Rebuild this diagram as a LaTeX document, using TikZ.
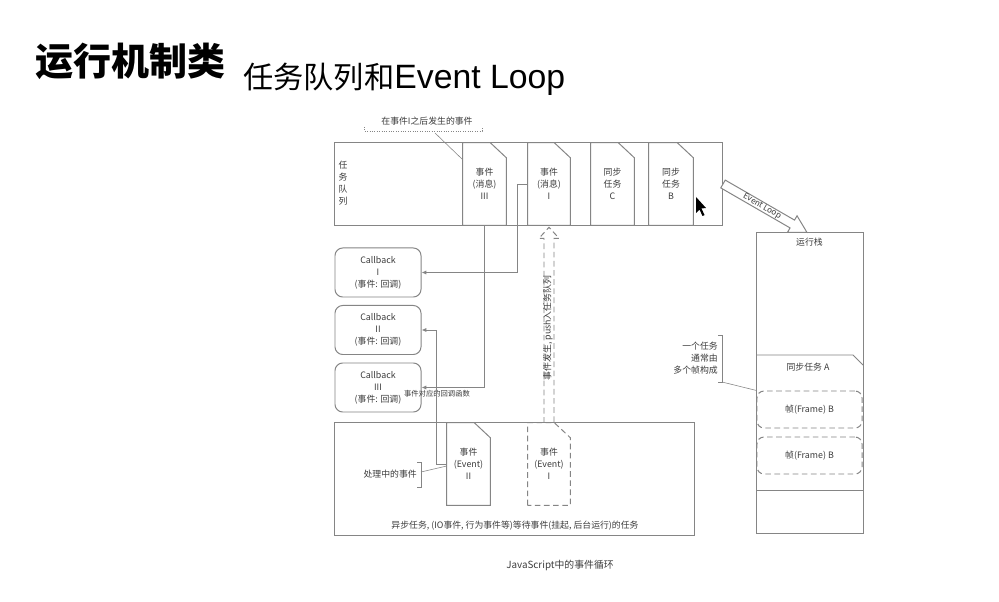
\documentclass[tikz,border=0pt]{standalone}
\usepackage{fontspec}
\setmainfont{Noto Sans CJK SC}
\newfontfamily\latinsans{Liberation Sans}
\usetikzlibrary{calc, arrows.meta}
\definecolor{linegray}{HTML}{858585}
\definecolor{textgray}{HTML}{3C3C3C}

% card with a folded top right corner, drawn on a node's anchors
\newcommand\foldcard[2][]{%
  \draw[gline,#1] (#2.south west) -- (#2.north west) -- ($(#2.north east)+(-16,0)$)
    -- ($(#2.north east)+(0,15)$) -- (#2.south east) -- cycle;}

\begin{document}
\begin{tikzpicture}[x=0.025cm, y=-0.025cm, >={Latex[length=3.5pt,width=3pt]},
  gline/.style={draw=linegray, line width=0.7pt},
  dashline/.style={gline, dash pattern=on 4pt off 2.5pt},
  smalltext/.style={font=\fontsize{6.3}{8.5}\selectfont, text=textgray, align=center, inner sep=0pt},
  card/.style={smalltext, minimum width=#1, minimum height=2.05cm},
  cbbox/.style={smalltext, gline, rounded corners=5.5pt, minimum width=2.15cm, minimum height=1.225cm},
  framebox/.style={smalltext, dashline, rounded corners=5pt, minimum width=2.625cm, minimum height=0.925cm}]
  \fill[white] (0,0) rectangle (999,602);
  \useasboundingbox (0,0) rectangle (999,602);

  % title
  \node[anchor=base west, inner sep=0pt, font=\fontsize{27}{30}\selectfont\bfseries] (title) at (35,76) {运行机制类};
  \node[anchor=base west, inner sep=0pt, font=\fontsize{21.5}{24}\selectfont] (subtitle) at (243,89) {任务队列和{\latinsans\fontsize{24}{26}\selectfont Event Loop}};

  % task queue
  \node[gline, minimum width=9.675cm, minimum height=2.05cm] (queue) at (528.5,184) {};
  \node[smalltext] (qlabel) at (343,183) {任\\务\\队\\列};
  \node[card=1.075cm] (m3) at (484.5,184) {事件\\(消息)\\III};
  \node[card=1.05cm] (m1) at (549,184) {事件\\(消息)\\I};
  \node[card=1.075cm] (sc) at (612.5,184) {同步\\任务\\C};
  \node[card=1.1cm] (sb) at (671,184) {同步\\任务\\B};
  \foreach \c in {m3,m1,sc,sb} {\foldcard{\c}}

  \node[smalltext] (later) at (427,121) {在事件I之后发生的事件};
  \draw[gline, densely dotted, thin] (364,127) -- (364,131) -- (482,131) -- (482,127);
  \draw[gline, thin] (435,133) -- ($(m3.north west)+(0,17)$);

  % mouse pointer
  \fill[black] (696,197) -- (696,213) -- (699.5,209.5) -- (702.5,216) -- (704.5,215) -- (701.5,208.5) -- (706,208) -- cycle;

  % event loop arrow
  \begin{scope}[shift={(723,184)}, rotate=-30]
    \draw[gline, fill=white] (0,-4.5) -- (80,-4.5) -- (80,-9.5) -- (97,0) -- (80,9.5) -- (80,4.5) -- (0,4.5) -- cycle;
    \node[smalltext, font=\fontsize{5.8}{7}\selectfont, rotate=-30] (evloop) at (45,0) {Event Loop};
  \end{scope}

  % call stack
  \node[gline, minimum width=2.675cm, minimum height=7.5cm] (stack) at (809.5,383) {};
  \node[smalltext, anchor=north] (stacktitle) at ($(stack.north)+(0,5)$) {运行栈};
  \draw[gline] (756,355) -- (853,355) -- (863,365);
  \node[smalltext] (syncA) at (808,367) {同步任务 A};
  \node[framebox] (f1) at (809.5,409.5) {帧(Frame) B};
  \node[framebox] (f2) at (809.5,455.5) {帧(Frame) B};
  \draw[gline] (756,490) -- (863,490);
  \node[smalltext, align=right, anchor=east] (tasknote) at (718,358) {一个任务\\通常由\\多个帧构成};
  \draw[gline, thin] (718,335) -- (722,335) -- (722,382) -- (718,382);
  \draw[gline, thin] (722,382) -- (f1.north west);

  % callbacks
  \node[cbbox] (cb1) at (378,272.5) {Callback\\I\\(事件: 回调)};
  \node[cbbox] (cb2) at (378,330) {Callback\\II\\(事件: 回调)};
  \node[cbbox] (cb3) at (378,387.5) {Callback\\III\\(事件: 回调)};
  \node[smalltext, font=\fontsize{5.2}{6}\selectfont] (cblabel) at (437,394) {事件对应的回调函数};

  % waiting async tasks
  \node[gline, minimum width=8.975cm, minimum height=2.8cm] (async) at (514.5,479) {};
  \node[card=1.075cm] (e2) at (468.5,464) {事件\\(Event)\\II};
  \node[card=1.05cm] (e1) at (549,464) {事件\\(Event)\\I};
  \foldcard{e2}
  \foldcard[dashline]{e1}
  \node[smalltext, anchor=east] (busy) at (417,474) {处理中的事件};
  \draw[gline, thin] (417,462) -- (421,462) -- (421,487) -- (417,487);
  \draw[gline, thin] (421,472) -- ($(e2.west)+(0,2)$);
  \node[smalltext] (asynclabel) at (515,526) {异步任务, (IO事件, 行为事件等)等待事件(挂起, 后台运行)的任务};

  % connectors
  \draw[gline, ->] (m3.south) |- (cb3.east);
  \draw[gline, ->] (m1.west) -- ++(-10,0) |- (cb1.east);
  \draw[gline, ->] (e2.west) -- ++(-10,0) |- (cb2.east);
  \draw[dashline] ($(e1.north)+(-5,0)$) -- ($(m1.south)+(-5,13)$) -- ($(m1.south)+(-10,13)$)
    -- ($(m1.south)+(0,2)$) -- ($(m1.south)+(10,13)$) -- ($(m1.south)+(5,13)$) -- ($(e1.north)+(5,0)$);
  \node[smalltext, rotate=90] (pushlabel) at (548,328) {事件发生, push入任务队列};

  \node[font=\fontsize{7}{8}\selectfont, text=textgray, inner sep=0pt] (caption) at (560,565) {JavaScript中的事件循环};
\end{tikzpicture}
\end{document}
